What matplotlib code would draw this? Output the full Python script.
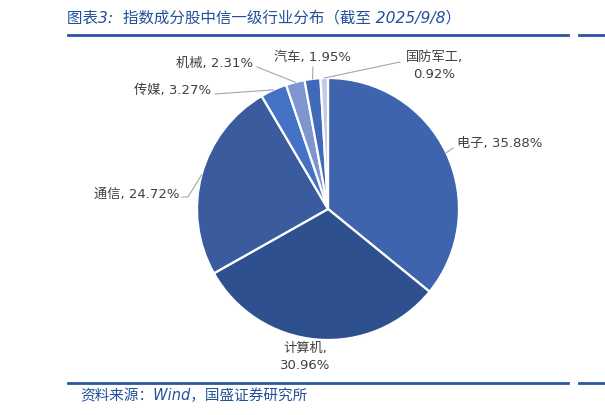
import numpy as np
import matplotlib
matplotlib.use("Agg")
import matplotlib.pyplot as plt
from matplotlib.lines import Line2D

plt.rcParams['font.family'] = ['DejaVu Sans', 'Noto Sans CJK SC']

categories = ["电子", "计算机", "通信", "传媒", "机械", "汽车", "国防军工"]
values = [35.88, 30.96, 24.72, 3.27, 2.31, 1.95, 0.92]
colors = ["#3e64ad", "#2f508e", "#3a5b9e", "#4472c4", "#7e95cf", "#4169b9", "#c3cbe8"]

W, H = 605, 415
fig = plt.figure(figsize=(W / 100, H / 100), dpi=100)
ax = fig.add_axes([0, 0, 1, 1])

def py(y):
    return H - y

cx, cy, R = 328, py(209), 131
wedges, _ = ax.pie(values, colors=colors, startangle=90, counterclock=False,
                   center=(cx, cy), radius=R, frame=True,
                   wedgeprops=dict(edgecolor='white', linewidth=1.6))
ax.set_xlim(0, W)
ax.set_ylim(0, H)
ax.set_aspect('auto')
ax.axis('off')

txt_color = "#404040"
lead_color = "#a6a6a6"
fs = 9.5

# label layout: (text x, text y, ha, va, leader points in pixels ending near the text)
layout = {
    "电子": (457, 143, 'left', 'center', [(453, 148)]),
    "计算机": (305, 357, 'center', 'center', []),
    "通信": (180, 194, 'right', 'center', [(188, 197), (182, 197)]),
    "传媒": (211, 90, 'right', 'center', [(215, 94)]),
    "机械": (253, 63, 'right', 'center', [(257, 67)]),
    "汽车": (312, 57, 'center', 'center', [(313, 67)]),
    "国防军工": (434, 66, 'center', 'center', [(400, 62)]),
}

for w, cat, val in zip(wedges, categories, values):
    tx, ty, ha, va, pts = layout[cat]
    if cat in ("计算机", "国防军工"):
        s = f"{cat},\n{val:.2f}%"
    else:
        s = f"{cat}, {val:.2f}%"
    ax.text(tx, py(ty), s, ha=ha, va=va, fontsize=fs, color=txt_color,
            linespacing=1.35, multialignment='center')
    if pts:
        ang = np.deg2rad((w.theta1 + w.theta2) / 2)
        ex, ey = cx + R * np.cos(ang), cy + R * np.sin(ang)
        xs = [ex] + [p[0] for p in pts]
        ys = [ey] + [py(p[1]) for p in pts]
        ax.add_line(Line2D(xs, ys, color=lead_color, lw=0.8))

blue = "#2a56a2"
title_color = "#23509c"
ax.text(67, py(18), "图表3:  指数成分股中信一级行业分布（截至 2025/9/8）",
        fontsize=11.2, color=title_color, style='italic', ha='left', va='center')
ax.add_line(Line2D([68, 568], [py(35), py(35)], color=blue, lw=2))
ax.add_line(Line2D([579, 605], [py(35), py(35)], color=blue, lw=2))
ax.add_line(Line2D([68, 568], [py(383), py(383)], color=blue, lw=2))
ax.add_line(Line2D([579, 605], [py(383), py(383)], color=blue, lw=2))
ax.text(80, py(396), "资料来源：Wind，国盛证券研究所", fontsize=10.5,
        color=title_color, style='italic', ha='left', va='center')

fig.savefig("out.png", dpi=100)
